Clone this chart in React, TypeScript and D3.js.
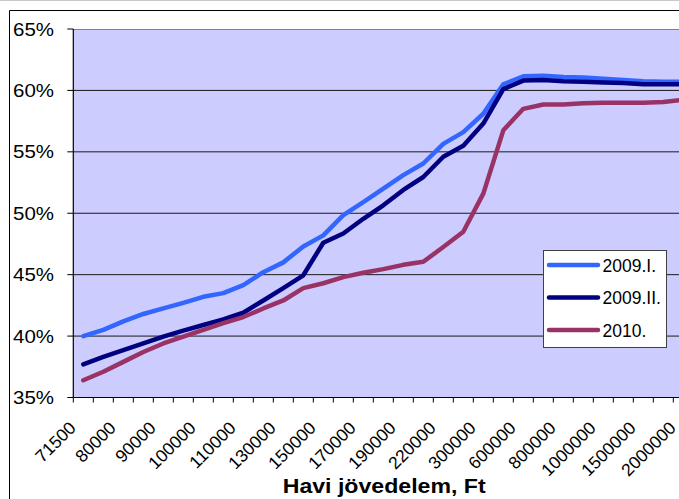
import React from "react";
import { scaleBand, scaleLinear, line } from "d3";

// income categories (every other one is labelled)
const categories = [
  "71500", "75000", "80000", "85000", "90000", "95000", "100000", "105000",
  "110000", "120000", "130000", "140000", "150000", "160000", "170000", "180000",
  "190000", "200000", "220000", "250000", "300000", "400000", "600000", "700000",
  "800000", "900000", "1000000", "1250000", "1500000", "1750000", "2000000",
];

const s2009I = [
  40.0, 40.5, 41.2, 41.8, 42.25, 42.7, 43.2, 43.5, 44.15, 45.2, 46.0, 47.3, 48.2,
  49.85, 50.9, 52.0, 53.1, 54.05, 55.65, 56.6, 58.1, 60.5, 61.15, 61.2, 61.1,
  61.05, 60.95, 60.85, 60.75, 60.7, 60.7,
];
const s2009II = [
  37.7, 38.3, 38.85, 39.4, 39.95, 40.45, 40.9, 41.35, 41.9, 42.9, 43.9, 44.95,
  47.6, 48.35, 49.55, 50.65, 51.9, 52.95, 54.6, 55.5, 57.3, 60.1, 60.8, 60.85,
  60.75, 60.7, 60.65, 60.6, 60.5, 60.5, 60.5,
];
const s2010 = [
  36.4, 37.1, 37.9, 38.7, 39.4, 39.95, 40.5, 41.05, 41.55, 42.25, 42.9, 43.9,
  44.3, 44.8, 45.15, 45.45, 45.8, 46.05, 47.25, 48.5, 51.6, 56.75, 58.5, 58.85,
  58.85, 58.95, 59.0, 59.0, 59.0, 59.05, 59.25,
];

const yTicks = [35, 40, 45, 50, 55, 60, 65];

const series = [
  { name: "2009.I.", values: s2009I, color: "#3366FF" },
  { name: "2009.II.", values: s2009II, color: "#000080" },
  { name: "2010.", values: s2010, color: "#993366" },
];

export default function App() {
  const width = 679;
  const height = 499;
  const left = 73.3;
  const top = 29;
  const bottom = 397.5;

  // category axis, 20px per band (the chart runs past the right edge)
  const x = scaleBand()
    .domain(categories)
    .range([left, left + categories.length * 20])
    .padding(0);
  const y = scaleLinear().domain([35, 65]).range([bottom, top]);

  const path = line<number>()
    .x((_, i) => (x(categories[i]) as number) + x.bandwidth() / 2)
    .y((d) => y(d));

  const font = "'Liberation Sans', Arial, sans-serif";

  return (
    <svg
      width={width}
      height={height}
      style={{ position: "absolute", left: 0, top: 0, background: "#fff" }}
    >
      {/* outer frame */}
      <line x1={0} x2={width} y1={0.5} y2={0.5} stroke="#c8c8c8" />
      <line x1={9.5} x2={width} y1={10.5} y2={10.5} stroke="#000" />
      <line x1={9.5} x2={9.5} y1={10.5} y2={height} stroke="#000" />

      {/* plot background */}
      <rect
        x={left}
        y={top}
        width={x.range()[1] - left}
        height={bottom - top}
        fill="#CCCCFF"
      />
      <line x1={left} x2={width} y1={top + 0.5} y2={top + 0.5} stroke="#808080" />

      {/* gridlines + y labels */}
      {yTicks.map((t) => (
        <g key={t}>
          {t !== 35 && t !== 65 && (
            <line x1={left} x2={width} y1={y(t)} y2={y(t)} stroke="#1a1a1a" />
          )}
          <line x1={left - 6} x2={left} y1={y(t)} y2={y(t)} stroke="#000" />
          <text
            x={13}
            y={y(t) + 6.5}
            fontSize={18}
            fontFamily={font}
            textLength={41}
            lengthAdjust="spacingAndGlyphs"
          >
            {t}%
          </text>
        </g>
      ))}

      {/* lines */}
      {series.map((s) => (
        <path
          key={s.name}
          d={path(s.values) || ""}
          fill="none"
          stroke={s.color}
          strokeWidth={4.5}
          strokeLinejoin="round"
          strokeLinecap="round"
        />
      ))}

      {/* axes */}
      <line x1={left} x2={left} y1={top} y2={bottom} stroke="#000" strokeWidth={1.2} />
      <line x1={left} x2={width} y1={bottom} y2={bottom} stroke="#000" strokeWidth={1.2} />
      {categories.map((c) => (
        <line
          key={c}
          x1={x(c)}
          x2={x(c)}
          y1={bottom}
          y2={bottom + 5}
          stroke="#000"
        />
      ))}

      {/* x labels */}
      {categories.map((c, i) =>
        i % 2 === 0 ? (
          <text
            key={c}
            transform={`translate(${(x(c) as number) + x.bandwidth() / 2 - 6.5},${bottom + 31.5}) rotate(-45)`}
            textAnchor="end"
            fontSize={17.5}
            fontFamily={font}
          >
            {c}
          </text>
        ) : null
      )}

      {/* axis title */}
      <text
        x={282.7}
        y={493}
        fontSize={19.5}
        fontWeight="bold"
        fontFamily={font}
        textLength={203}
        lengthAdjust="spacingAndGlyphs"
      >
        Havi jövedelem, Ft
      </text>

      {/* legend */}
      <rect x={543.5} y={250.5} width={123} height={97} fill="#fff" stroke="#404040" />
      {series.map((s, i) => (
        <g key={s.name}>
          <line
            x1={549}
            x2={598}
            y1={265 + i * 32.5}
            y2={265 + i * 32.5}
            stroke={s.color}
            strokeWidth={4.5}
            strokeLinecap="round"
          />
          <text x={602.5} y={271.5 + i * 32.5} fontSize={17.5} fontFamily={font}>
            {s.name}
          </text>
        </g>
      ))}
    </svg>
  );
}
